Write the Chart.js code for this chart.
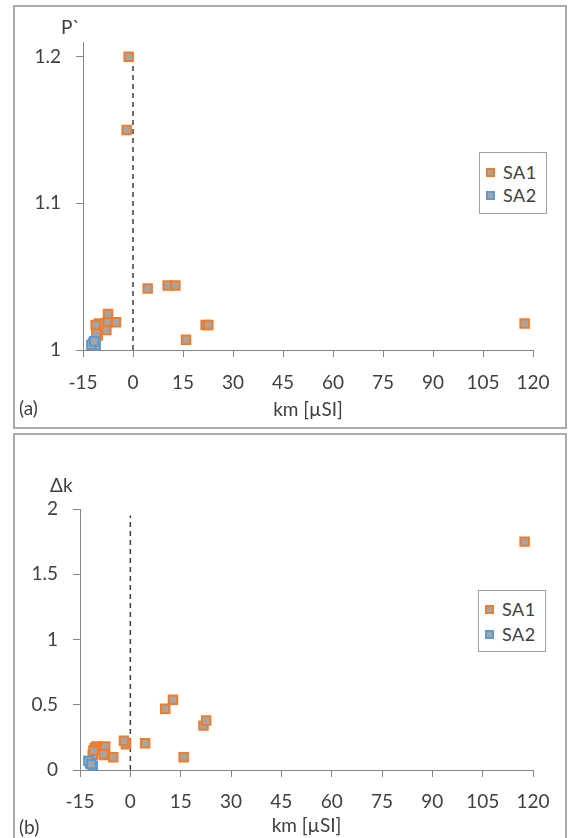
<!DOCTYPE html>
<html>
<head>
<meta charset="utf-8">
<script src="https://cdn.jsdelivr.net/npm/chart.js@4.4.1/dist/chart.umd.min.js"></script>
<style>
  html, body { margin: 0; padding: 0; background: #fff; }
  #page { position: relative; width: 574px; height: 838px; overflow: hidden; font-family: Lato, sans-serif; color: #404040; }
  .panel { position: absolute; box-sizing: border-box; border: 2px solid #ababab; }
  .holder { position: absolute; left: 0; }
  .lbl { position: absolute; font-size: 19px; line-height: 1; white-space: nowrap; }
  .legend { position: absolute; box-sizing: border-box; border: 1.5px solid #a0a0a0; background: #fff; font-size: 18px; }
  .item { position: absolute; left: 6px; display: flex; align-items: center; height: 20px; letter-spacing: 0.5px; }
  .swatch { width: 9px; height: 9px; box-sizing: border-box; border: 2px solid; background: #a5a5a5; margin-right: 8px; }
</style>
</head>
<body>
<div id="page">
  <div class="panel" style="left:13px;top:5px;width:554px;height:424px;"></div>
  <div class="panel" style="left:13px;top:433px;width:554px;height:420px;"></div>

  <div class="holder" style="top:0;width:574px;height:430px;"><canvas id="chartP" width="574" height="430"></canvas></div>
  <div class="holder" style="top:430px;width:574px;height:408px;"><canvas id="chartDk" width="574" height="408"></canvas></div>

  <div class="lbl" style="left:61px;top:17px;">P`</div>
  <div class="lbl" style="left:50px;top:475px;">Δk</div>
  <div class="lbl" style="left:19px;top:398px;">(a)</div>
  <div class="lbl" style="left:19px;top:817px;">(b)</div>

  <div class="legend" style="left:479px;top:152px;width:68px;height:62px;">
    <div class="item" style="top:9px;"><span class="swatch" style="border-color:#ED7D31"></span>SA1</div>
    <div class="item" style="top:32px;"><span class="swatch" style="border-color:#5B9BD5"></span>SA2</div>
  </div>
  <div class="legend" style="left:478px;top:590px;width:68px;height:62px;">
    <div class="item" style="top:8px;"><span class="swatch" style="border-color:#ED7D31"></span>SA1</div>
    <div class="item" style="top:33px;"><span class="swatch" style="border-color:#5B9BD5"></span>SA2</div>
  </div>
</div>

<script>
// Magnetic susceptibility km [µSI] for each sample group
const kmSA1 = [-1.3, -1.9, 4.4, 10.4, 12.7, 15.9, 21.8, 22.6, 117.5, -5.1, -7.5, -7.7, -8.0, -10.2, -11.2, -10.6, -11.0];
const kmSA2 = [-12.0, -11.2, -12.5, -11.6];

// Anisotropy degree P`
const pSA1 = [1.2, 1.15, 1.042, 1.044, 1.044, 1.007, 1.017, 1.017, 1.018, 1.019, 1.0246, 1.019, 1.0136, 1.018, 1.017, 1.0098, 1.011];
const pSA2 = [1.005, 1.003, 1.0034, 1.006];

// Susceptibility difference Δk
const dkSA1 = [0.197, 0.225, 0.205, 0.469, 0.538, 0.098, 0.34, 0.38, 1.75, 0.098, 0.18, 0.115, 0.12, 0.18, 0.115, 0.167, 0.15];
const dkSA2 = [0.05, 0.03, 0.07, 0.045];

// Axis ticks
const kmTicks = [-15, 0, 15, 30, 45, 60, 75, 90, 105, 120];
const pTicks = [1, 1.1, 1.2];
const dkTicks = [0, 0.5, 1, 1.5, 2];

// Dashed reference line at km = 0
const zeroLineKm = [0, 0];
const zeroLineP = [1, 1.196];
const zeroLineDk = [0, 1.95];

const AXIS = '#868686';
const TEXT = '#404040';
const FONT = { family: 'Lato, sans-serif', size: 19 };

function pts(xs, ys) { return xs.map((x, i) => ({ x: x, y: ys[i] })); }

function seriesSet(name, xs, ys, edge, order) {
  return {
    label: name, data: pts(xs, ys), order: order,
    showLine: false, pointStyle: 'rect', pointRadius: 6, pointHoverRadius: 6,
    pointBorderWidth: 2, pointBackgroundColor: '#A5A5A5', pointBorderColor: edge
  };
}

function makeChart(id, ys1, ys2, refY, yMin, yMax, yTicks, box) {
  return new Chart(document.getElementById(id), {
    type: 'scatter',
    data: {
      datasets: [
        {
          label: 'zero', data: pts(zeroLineKm, refY), order: 3,
          showLine: true, borderColor: '#3f3f3f', borderWidth: 1.5, borderDash: [5, 4],
          pointRadius: 0, pointHoverRadius: 0, fill: false
        },
        seriesSet('SA1', kmSA1, ys1, '#ED7D31', 2),
        seriesSet('SA2', kmSA2, ys2, '#5B9BD5', 1)
      ]
    },
    options: {
      responsive: false, animation: false,
      layout: { padding: { left: box.padLeft, right: box.padRight, top: box.padTop, bottom: 0 } },
      plugins: { legend: { display: false }, tooltip: { enabled: false } },
      elements: { point: { drawActiveElementsOnTop: false } },
      scales: {
        x: {
          type: 'linear', min: -15, max: 120,
          afterBuildTicks: s => { s.ticks = kmTicks.map(v => ({ value: v })); },
          afterFit: s => { s.height = box.xHeight; },
          ticks: { color: TEXT, font: FONT, padding: box.xPad, maxRotation: 0, autoSkip: false,
                   callback: v => String(v) },
          grid: { drawOnChartArea: false, drawTicks: true, tickLength: 7, color: AXIS, lineWidth: 1 },
          border: { display: true, color: AXIS, width: 1 },
          title: { display: true, text: 'km [µSI]', color: TEXT, font: FONT,
                   padding: { top: 0, bottom: box.titlePad } }
        },
        y: {
          type: 'linear', min: yMin, max: yMax,
          afterBuildTicks: s => { s.ticks = yTicks.map(v => ({ value: v })); },
          afterFit: s => { s.width = box.yWidth; },
          ticks: { color: TEXT, font: FONT, padding: 15, callback: v => String(v) },
          grid: { drawOnChartArea: false, drawTicks: true, tickLength: 7, color: AXIS, lineWidth: 1 },
          border: { display: true, color: AXIS, width: 1 }
        }
      }
    }
  });
}

// (a) P` versus km
makeChart('chartP', pSA1, pSA2, zeroLineP, 1, 1.21, pTicks,
  { padLeft: 23, padRight: 41, padTop: 42, yWidth: 60, xHeight: 80, xPad: 14, titlePad: 9 });

// (b) Δk versus km
makeChart('chartDk', dkSA1, dkSA2, zeroLineDk, 0, 2, dkTicks,
  { padLeft: 20, padRight: 41, padTop: 79, yWidth: 60, xHeight: 68, xPad: 13, titlePad: 1 });
</script>
</body>
</html>
